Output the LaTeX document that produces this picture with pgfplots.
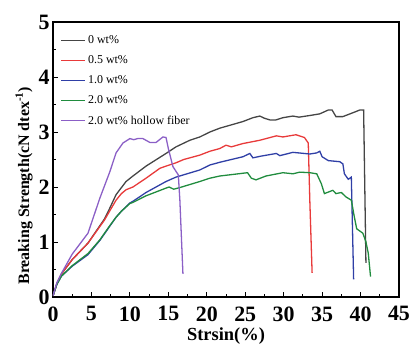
\documentclass[border=0pt]{standalone}
\usepackage{fontspec}
\setmainfont{Liberation Serif}
\usepackage{pgfplots}
\pgfplotsset{compat=1.18}
\definecolor{cK}{HTML}{454545}
\definecolor{cR}{HTML}{E83A3A}
\definecolor{cB}{HTML}{2F3FA6}
\definecolor{cG}{HTML}{208C3E}
\definecolor{cP}{HTML}{8B5FC6}
\begin{document}
\begin{tikzpicture}
\begin{axis}[
  scale only axis, width=346bp, height=275bp,
  xmin=0, xmax=45, ymin=0, ymax=5,
  xtick={0,5,...,45}, ytick={0,1,...,5},
  minor x tick num=1, minor y tick num=1,
  tick pos=left, tick align=inside,
  major tick length=5bp, minor tick length=3bp,
  axis line style={line width=1.3pt},
  every tick/.style={line width=1pt,black},
  /pgf/number format/assume math mode=true,
  tick label style={font=\fontsize{22}{26}\selectfont\bfseries},
  xticklabel style={yshift=-6bp},
  xlabel={Strsin(\%)},
  ylabel={Breaking Strength(cN dtex\textsuperscript{-1})},
  xlabel style={font=\fontsize{18.5}{22}\selectfont\bfseries, yshift=0bp},
  ylabel style={font=\fontsize{16}{19}\selectfont\bfseries, at={(ticklabel cs:0.405)}, yshift=-1bp},
  legend cell align=left,
  legend style={draw=none, fill=none, at={(0.022,0.958)}, anchor=north west,
    font=\fontsize{12}{14}\selectfont, row sep=6.6bp, inner sep=0pt},
  legend image code/.code={\draw[#1] (0bp,0bp) -- (24bp,0bp);},
  every axis plot/.append style={line width=1.3pt},
]
% 0 wt%
\addplot[cK] coordinates {
(0,0.02)(0.5,0.24)(1.1,0.42)(2.5,0.68)(4.55,0.98)(6.7,1.42)(7.4,1.62)(8.2,1.86)(9.5,2.1)(10.4,2.2)(12.1,2.38)(14.7,2.61)(16,2.73)(17.8,2.85)(19.1,2.91)(20.4,3.0)(21.7,3.07)(24.7,3.19)(26,3.26)(26.9,3.29)(27.5,3.25)(28.2,3.22)(29,3.22)(29.9,3.26)(31.2,3.29)(32,3.27)(33.4,3.3)(34.7,3.33)(35.8,3.4)(36.3,3.4)(36.8,3.28)(37.7,3.28)(39,3.35)(39.9,3.4)(40.4,3.4)(40.7,0.62)};
\addlegendentry{0 wt\%}
% 0.5 wt%
\addplot[cR] coordinates {
(0,0.02)(0.5,0.24)(1.1,0.42)(2.5,0.68)(4.55,0.98)(6.7,1.4)(7.4,1.57)(8.2,1.76)(8.9,1.88)(9.5,1.95)(10.4,2.0)(12.1,2.16)(13.9,2.34)(14.7,2.38)(16,2.44)(17,2.5)(19.1,2.58)(20.4,2.65)(21.7,2.7)(22.5,2.76)(23.2,2.73)(24.7,2.79)(26.9,2.85)(29.05,2.93)(29.9,2.91)(31.6,2.95)(32.7,2.9)(33.2,2.8)(33.4,1.76)(33.7,0.44)};
\addlegendentry{0.5 wt\%}
% 1.0 wt%
\addplot[cB] coordinates {
(0,0.02)(0.5,0.23)(1.1,0.38)(2.5,0.56)(4.55,0.77)(6.1,1.03)(7.4,1.29)(8.2,1.45)(8.9,1.56)(10,1.71)(10.4,1.74)(12.1,1.9)(14.7,2.1)(16,2.18)(19.1,2.31)(20.4,2.4)(21.7,2.45)(24.7,2.55)(25.6,2.61)(26,2.53)(27,2.56)(29.05,2.61)(29.5,2.57)(31.2,2.63)(33.4,2.6)(34.3,2.62)(34.7,2.65)(35,2.55)(35.8,2.48)(37.3,2.46)(37.7,2.42)(37.9,2.24)(38.4,2.14)(38.8,2.18)(39.1,0.32)};
\addlegendentry{1.0 wt\%}
% 2.0 wt%
\addplot[cG] coordinates {
(0,0.02)(0.5,0.23)(1.1,0.38)(2.5,0.57)(4.55,0.79)(6.1,1.04)(7.4,1.3)(8.2,1.45)(8.9,1.56)(10,1.7)(10.4,1.72)(12.1,1.84)(14.7,1.98)(15.1,2.0)(15.7,1.96)(16.5,1.99)(19.1,2.1)(20.4,2.16)(21.7,2.2)(24.7,2.25)(25.3,2.26)(25.8,2.16)(26.4,2.13)(27.7,2.2)(29.9,2.26)(31.2,2.24)(32.1,2.27)(33.4,2.26)(34.3,2.24)(34.9,2.06)(35.3,1.88)(36.4,1.94)(36.8,1.88)(37.5,1.9)(38.1,1.82)(38.8,1.76)(39.2,1.45)(39.5,1.24)(40.3,1.16)(40.7,1.0)(41.0,0.8)(41.3,0.37)};
\addlegendentry{2.0 wt\%}
% 2.0 wt% hollow
\addplot[cP] coordinates {
(0,0.02)(0.5,0.26)(1.1,0.43)(2.5,0.78)(4.55,1.16)(6.1,1.8)(7.4,2.28)(8.2,2.62)(9.1,2.8)(10,2.88)(10.5,2.86)(11,2.88)(11.7,2.88)(12.6,2.81)(13.4,2.81)(14.3,2.91)(14.7,2.9)(15.0,2.7)(15.6,2.37)(16.3,2.22)(16.5,1.76)(16.9,0.42)};
\addlegendentry{2.0 wt\% hollow fiber}
\end{axis}
\pgfresetboundingbox
\path (-53bp,-58bp) rectangle (365bp,297bp);
\end{tikzpicture}
\end{document}
